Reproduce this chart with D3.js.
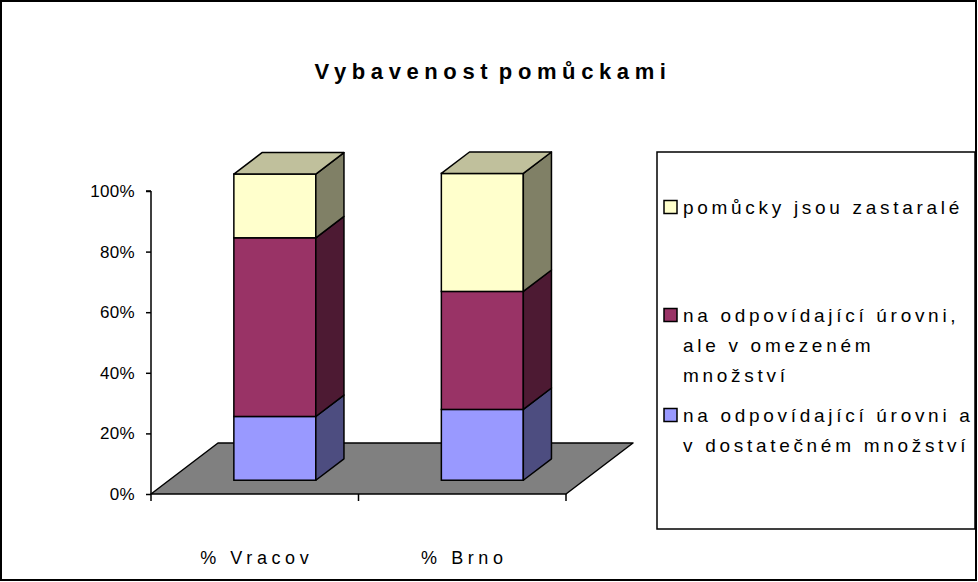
<!DOCTYPE html>
<html><head><meta charset="utf-8">
<script src="https://cdn.jsdelivr.net/npm/d3@7/dist/d3.min.js"></script>
<style>
html,body{margin:0;padding:0;background:#fff;}
svg text{font-family:"Liberation Sans",Arial,sans-serif;fill:#000;}
</style></head>
<body>
<svg id="chart" width="978" height="582"></svg>
<script>
// ---- data ----
const title = "Vybavenost pomůckami";
const categories = ["% Vracov", "% Brno"];
const seriesNames = [
  "na odpovídající úrovni a v dostatečném množství",
  "na odpovídající úrovni, ale v omezeném množství",
  "pomůcky jsou zastaralé"
];
const blueValues = [20.8, 23.1];
const redValues = [58.3, 38.5];
const yellowValues = [20.8, 38.5];
const yTicks = [0, 20, 40, 60, 80, 100];
const legendLines = [
  ["pomůcky jsou zastaralé"],
  ["na odpovídající úrovni,", "ale v omezeném", "množství"],
  ["na odpovídající úrovni a", "v dostatečném množství"]
];

// ---- styles ----
const frontColors = ["#9999FF", "#993366", "#FFFFCC"];
const sideColors = ["#4D4D80", "#4D1A33", "#808066"];
const topColors = ["#4D4D80", "#4D1A33", "#C0C09C"];
const legendColors = ["#FFFFCC", "#993366", "#9999FF"];

const svg = d3.select("#chart");

// chart area border
svg.append("rect").attr("x", 1).attr("y", 1).attr("width", 975).attr("height", 579)
  .attr("fill", "#fff").attr("stroke", "#000").attr("stroke-width", 2);

// scales
const x0 = 151, x1 = 566, yBottom = 494, yTop = 191;
const depth = [67, -51];
const y = d3.scaleLinear().domain([0, 100]).range([yBottom, yTop]);
const x = d3.scaleBand().domain(categories).range([x0, x1]).padding(0);
const barFrac = 0.395, dFront = 0.27, dBack = 0.69;
const sx = depth[0] * dFront + 2, sy = depth[1] * dFront;
// value scale on the bar plane (slightly nearer in perspective)
const yBar = d3.scaleLinear().domain([0, 100]).range([yBottom + sy, yTop + sy - 3.5]);

// title
svg.append("text").attr("x", 493).attr("y", 79).attr("text-anchor", "middle")
  .style("font-size", "22px").style("font-weight", "bold")
  .style("letter-spacing", "5.6px").style("word-spacing", "-6px")
  .text(title);

// floor
const floorPts = [[x0, yBottom], [x1, yBottom], [x1 + depth[0], yBottom + depth[1]], [x0 + depth[0], yBottom + depth[1]]];
svg.append("path").attr("d", d3.line()(floorPts) + "Z")
  .attr("fill", "#808080").attr("stroke", "#000").attr("stroke-width", 1.5).attr("stroke-linejoin", "round");

// y axis
const yAxis = d3.axisLeft(y).tickValues(yTicks).tickSize(5).tickFormat(d => d + "%");
const gy = svg.append("g").attr("transform", `translate(${x0},0)`).call(yAxis);
gy.select(".domain").attr("stroke", "#000").attr("stroke-width", 1.5).attr("d", `M0,${yBottom}V${yTop}M-5,${yTop}H0`);
gy.selectAll(".tick line").attr("stroke", "#000").attr("stroke-width", 1.5);
gy.selectAll(".tick text").attr("x", -16).style("font-size", "17px").style("letter-spacing", "0.3px")
  .style("font-family", '"Liberation Sans",Arial,sans-serif');

// x axis ticks + labels
const gx = svg.append("g");
const xTickPos = [x0, ...categories.slice(1).map(c => x(c)), x1];
gx.selectAll("line").data(xTickPos).join("line")
  .attr("x1", d => d).attr("x2", d => d).attr("y1", yBottom).attr("y2", yBottom + 7)
  .attr("stroke", "#000").attr("stroke-width", 1.5);
gx.selectAll("text").data(categories).join("text")
  .attr("x", d => x(d) + x.bandwidth() / 2 + 2).attr("y", 564).attr("text-anchor", "middle")
  .style("font-size", "18px").style("letter-spacing", "4.6px")
  .text(d => d);

// bars
const stacks = categories.map((c, i) => {
  const vals = [blueValues[i], redValues[i], yellowValues[i]];
  let acc = 0;
  return vals.map((v, s) => { const seg = { c, s, y0: acc, y1: acc + v }; acc += v; return seg; });
});
const ddx = depth[0] * (dBack - dFront), ddy = depth[1] * (dBack - dFront);
const gb = svg.append("g");
stacks.forEach(stack => {
  stack.forEach((seg, k) => {
    const bw = x.bandwidth() * barFrac;
    const left = x(seg.c) + x.bandwidth() / 2 - bw / 2 + sx;
    const right = left + bw;
    const top = yBar(seg.y1), bot = yBar(seg.y0);
    gb.append("rect").attr("x", left).attr("y", top).attr("width", bw).attr("height", bot - top)
      .attr("fill", frontColors[seg.s]).attr("stroke", "#000").attr("stroke-width", 1.5);
    gb.append("path").attr("d", d3.line()([[right, top], [right + ddx, top + ddy], [right + ddx, bot + ddy], [right, bot]]) + "Z")
      .attr("fill", sideColors[seg.s]).attr("stroke", "#000").attr("stroke-width", 1.5).attr("stroke-linejoin", "round");
    if (k === stack.length - 1) {
      gb.append("path").attr("d", d3.line()([[left, top], [left + ddx, top + ddy], [right + ddx, top + ddy], [right, top]]) + "Z")
        .attr("fill", topColors[seg.s]).attr("stroke", "#000").attr("stroke-width", 1.5).attr("stroke-linejoin", "round");
    }
  });
});

// legend
const lg = svg.append("g");
lg.append("rect").attr("x", 657).attr("y", 152).attr("width", 318).attr("height", 377)
  .attr("fill", "#fff").attr("stroke", "#000").attr("stroke-width", 1.5);
const entryY = [207, 315, 415];
const lineH = 30;
legendLines.forEach((lines, i) => {
  lg.append("rect").attr("x", 664).attr("y", entryY[i] - 6.5).attr("width", 13).attr("height", 13)
    .attr("fill", legendColors[i]).attr("stroke", "#000").attr("stroke-width", 1.5);
  lines.forEach((t, j) => {
    lg.append("text").attr("x", 683).attr("y", entryY[i] + j * lineH).attr("dy", "0.36em")
      .style("font-size", "19px").style("letter-spacing", "3.7px").text(t);
  });
});
</script>
</body></html>
